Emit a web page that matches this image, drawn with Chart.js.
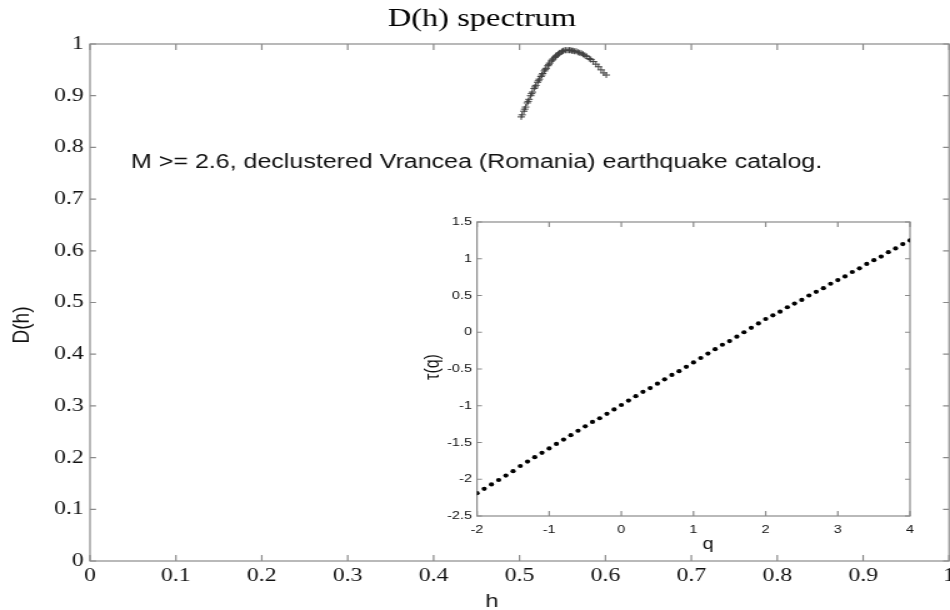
<!DOCTYPE html>
<html><head><meta charset="utf-8">
<script src="https://cdn.jsdelivr.net/npm/chart.js@4.4.1/dist/chart.umd.min.js"></script>
<style>
html,body{margin:0;padding:0;background:#fff;overflow:hidden;width:950px;height:610px;}
</style></head><body>
<canvas id="main" width="768" height="610" style="position:absolute;left:0;top:0;width:960px;height:610px;"></canvas>
<canvas id="inset" width="404" height="350" style="position:absolute;left:420px;top:210px;width:505px;height:350px;"></canvas>
<script>
// ---------------- data ----------------
const titleText = 'D(h) spectrum';
const noteText = 'M >= 2.6, declustered Vrancea (Romania) earthquake catalog.';
const xTitle = 'h';
const yTitle = 'D(h)';
const insetXTitle = 'q';
const insetYTitle = '\u03c4(q)';

const hValues = [0.601,0.598,0.595,0.592,0.589,0.586,0.583,0.581,0.578,0.576,0.574,0.572,0.570,0.568,0.566,0.564,0.562,0.561,0.559,0.558,
  0.556,0.554,0.553,0.551,0.550,0.549,0.547,0.546,0.545,0.543,0.542,0.541,0.539,0.538,0.537,0.535,0.534,0.533,0.531,0.530,
  0.529,0.527,0.526,0.525,0.523,0.522,0.521,0.519,0.518,0.517,0.515,0.514,0.513,0.511,0.510,0.509,0.507,0.506,0.505,0.503,0.502];
const dValues = [0.940,0.944,0.950,0.956,0.961,0.966,0.970,0.972,0.976,0.978,0.980,0.982,0.983,0.984,0.986,0.986,0.987,0.987,0.988,0.988,
  0.988,0.988,0.988,0.987,0.986,0.985,0.983,0.982,0.980,0.978,0.976,0.974,0.971,0.969,0.967,0.963,0.960,0.958,0.953,0.951,
  0.948,0.943,0.940,0.937,0.932,0.929,0.926,0.920,0.917,0.914,0.907,0.904,0.900,0.893,0.889,0.886,0.878,0.874,0.870,0.863,0.859];

const qValues = [-2.0,-1.9,-1.8,-1.7,-1.6,-1.5,-1.4,-1.3,-1.2,-1.1,-1.0,-0.9,-0.8,-0.7,-0.6,-0.5,-0.4,-0.3,-0.2,-0.1,
  0.0,0.1,0.2,0.3,0.4,0.5,0.6,0.7,0.8,0.9,1.0,1.1,1.2,1.3,1.4,1.5,1.6,1.7,1.8,1.9,
  2.0,2.1,2.2,2.3,2.4,2.5,2.6,2.7,2.8,2.9,3.0,3.1,3.2,3.3,3.4,3.5,3.6,3.7,3.8,3.9,4.0];
const tauValues = [-2.19,-2.13,-2.07,-2.01,-1.95,-1.89,-1.82,-1.76,-1.70,-1.64,-1.58,
  -1.52,-1.46,-1.40,-1.34,-1.28,-1.22,-1.17,-1.11,-1.05,-0.99,
  -0.93,-0.87,-0.81,-0.76,-0.70,-0.64,-0.58,-0.53,-0.47,-0.41,
  -0.35,-0.29,-0.23,-0.17,-0.12,-0.06,0.00,0.06,0.12,0.18,
  0.23,0.28,0.34,0.39,0.44,0.50,0.55,0.60,0.66,0.71,
  0.76,0.82,0.87,0.93,0.98,1.03,1.09,1.14,1.20,1.25];

const mainXTicks = [0,0.1,0.2,0.3,0.4,0.5,0.6,0.7,0.8,0.9,1];
const mainXTickLabels = ['0','0.1','0.2','0.3','0.4','0.5','0.6','0.7','0.8','0.9','1'];
const mainYTicks = [0,0.1,0.2,0.3,0.4,0.5,0.6,0.7,0.8,0.9,1];
const mainYTickLabels = ['0','0.1','0.2','0.3','0.4','0.5','0.6','0.7','0.8','0.9','1'];
const insetXTicks = [-2,-1,0,1,2,3,4];
const insetXTickLabels = ['-2','-1','0','1','2','3','4'];
const insetYTicks = [-2.5,-2,-1.5,-1,-0.5,0,0.5,1,1.5];
const insetYTickLabels = ['-2.5','-2','-1.5','-1','-0.5','0','0.5','1','1.5'];

// ---------------- drawing helpers ----------------
const SX = 1.25; // horizontal stretch of the picture
const FRAME = '#8a8a8a';
const TEXT = '#111';

function framePlugin(tickCss) {
  return { id: 'frame', beforeDatasetsDraw(chart) {
    const { ctx, chartArea: a, scales: { x, y } } = chart;
    ctx.save();
    ctx.strokeStyle = FRAME; ctx.lineWidth = 1.2;
    ctx.strokeRect(a.left, a.top, a.right - a.left, a.bottom - a.top);
    const tx = tickCss / SX, ty = tickCss;
    ctx.beginPath();
    x.ticks.forEach(t => { const p = x.getPixelForValue(t.value);
      ctx.moveTo(p, a.bottom); ctx.lineTo(p, a.bottom - ty);
      ctx.moveTo(p, a.top); ctx.lineTo(p, a.top + ty); });
    y.ticks.forEach(t => { const p = y.getPixelForValue(t.value);
      ctx.moveTo(a.left, p); ctx.lineTo(a.left + tx, p);
      ctx.moveTo(a.right, p); ctx.lineTo(a.right - tx, p); });
    ctx.stroke();
    ctx.restore();
  }};
}

function axisCfg(min, max, ticks, labels, font, pad, fit) {
  return {
    type: 'linear', min, max,
    afterBuildTicks: s => { s.ticks = ticks.map(v => ({ value: v })); },
    afterFit: fit,
    grid: { display: false, drawTicks: false },
    border: { display: false },
    ticks: { autoSkip: false, maxRotation: 0, padding: pad, color: TEXT, font,
      callback: (v, i) => labels[i] }
  };
}

// ---------------- main chart ----------------
new Chart(document.getElementById('main'), {
  type: 'scatter',
  data: { datasets: [{
    data: hValues.map((h, i) => ({ x: h, y: dValues[i] })),
    pointStyle: 'cross', pointRadius: 3, pointHoverRadius: 3,
    borderColor: '#404040', backgroundColor: '#404040', borderWidth: 1, showLine: false
  }]},
  options: {
    responsive: false, animation: false, events: [],
    layout: { autoPadding: false, padding: { left: 0, right: 6.4, top: 44, bottom: 0 } },
    plugins: { legend: { display: false }, tooltip: { enabled: false }, title: { display: false } },
    scales: {
      x: axisCfg(0, 1, mainXTicks, mainXTickLabels, { family: 'Liberation Serif', size: 19 }, 4, s => { s.height = 49; }),
      y: axisCfg(0, 1, mainYTicks, mainYTickLabels, { family: 'Liberation Serif', size: 19 }, 5, s => { s.width = 72; })
    }
  },
  plugins: [framePlugin(6), { id: 'texts', afterDraw(chart) {
    const ctx = chart.ctx;
    ctx.save();
    ctx.fillStyle = '#000';
    ctx.font = '26px "Liberation Serif"'; ctx.textAlign = 'center'; ctx.textBaseline = 'middle';
    ctx.fillText(titleText, 385.6, 19);
    ctx.fillStyle = TEXT;
    ctx.font = '20px "Liberation Sans"'; ctx.textAlign = 'left'; ctx.textBaseline = 'alphabetic';
    ctx.fillText(noteText, 104.8, 168);
    ctx.font = '19px "Liberation Sans"'; ctx.textAlign = 'center';
    ctx.fillText(xTitle, 393.6, 607);
    ctx.translate(17.6, 325); ctx.rotate(-Math.PI / 2); ctx.textBaseline = 'middle';
    ctx.fillText(yTitle, 0, 0);
    ctx.restore();
  }}]
});

// ---------------- inset chart ----------------
new Chart(document.getElementById('inset'), {
  type: 'scatter',
  data: { datasets: [{
    data: qValues.map((q, i) => ({ x: q, y: tauValues[i] })),
    pointStyle: 'circle', pointRadius: 2.1, pointHoverRadius: 2.1,
    borderColor: '#000', backgroundColor: '#000', borderWidth: 0, showLine: false
  }]},
  options: {
    responsive: false, animation: false, events: [],
    layout: { autoPadding: false, padding: { left: 0, right: 12, top: 12, bottom: 0 } },
    plugins: { legend: { display: false }, tooltip: { enabled: false }, title: { display: false } },
    scales: {
      x: axisCfg(-2, 4, insetXTicks, insetXTickLabels, { family: 'Liberation Sans', size: 11.5 }, 7, s => { s.height = 44; }),
      y: axisCfg(-2.5, 1.5, insetYTicks, insetYTickLabels, { family: 'Liberation Sans', size: 11.5 }, 4, s => { s.width = 45.6; })
    }
  },
  plugins: [framePlugin(5), { id: 'texts', afterDraw(chart) {
    const ctx = chart.ctx;
    ctx.save();
    ctx.fillStyle = TEXT;
    ctx.font = '16px "Liberation Sans"'; ctx.textAlign = 'center'; ctx.textBaseline = 'middle';
    ctx.fillText(insetXTitle, 230.4, 335);
    ctx.translate(10.4, 157); ctx.rotate(-Math.PI / 2);
    ctx.fillText(insetYTitle, 0, 0);
    ctx.restore();
  }}]
});
</script>
</body></html>
